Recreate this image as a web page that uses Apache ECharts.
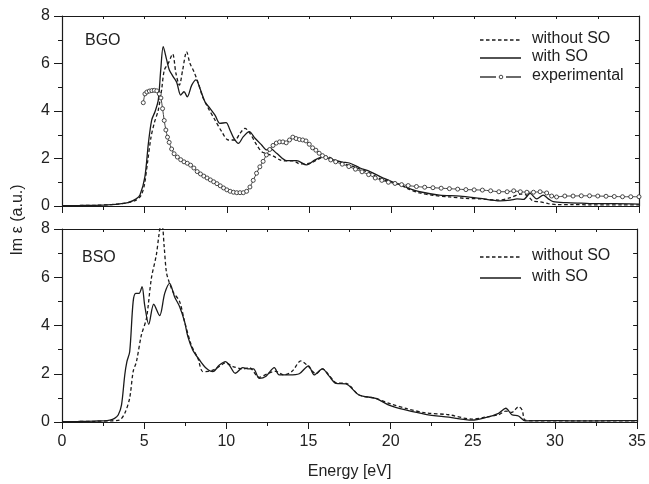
<!DOCTYPE html>
<html>
<head>
<meta charset="utf-8">
<script src="https://cdn.jsdelivr.net/npm/echarts@6/dist/echarts.min.js"></script>
<style>html,body{margin:0;padding:0;background:#fff}#c{width:649px;height:484px}</style>
</head>
<body>
<div id="c"></div>
<script>
// ---------- DATA ----------
var xTicks = [0, 5, 10, 15, 20, 25, 30, 35];
var yTicks = [0, 2, 4, 6, 8];
var panelLabels = ['BGO', 'BSO'];
var seriesNames = ['without SO', 'with SO', 'experimental'];

// BGO (top) without SO
var bgoNoSoX = [0,1,2,3,3.5,4,4.5,4.8,5.0,5.2,5.4,5.6,5.84,6.04,6.21,6.45,6.71,6.91,7.12,7.32,7.56,7.76,8.0,8.27,8.53,8.88,9.28,9.69,10.09,10.49,10.8,11.1,11.4,11.81,12.11,12.42,12.82,13.22,13.6,14.03,14.44,15.04,15.5,16.0,16.5,17.0,17.5,18.08,18.7,19.3,20.0,20.5,21.0,21.7,22.5,23.5,24.5,25.4,26.5,27.2,27.8,28.2,28.6,29.0,29.5,30.0,31,32,33,34,35];
var bgoNoSoY = [0.01,0.02,0.03,0.06,0.09,0.14,0.25,0.45,0.9,1.9,2.9,3.5,4.04,4.88,5.73,6.01,6.4,5.59,5.09,5.73,6.5,6.01,5.66,5.17,4.6,4.11,3.62,3.13,2.78,2.78,3.06,3.27,3.06,2.57,2.29,2.2,2.1,1.94,1.9,1.9,1.77,1.8,1.95,2.1,1.95,1.8,1.7,1.55,1.38,1.15,1.0,0.9,0.72,0.55,0.45,0.38,0.32,0.3,0.25,0.35,0.5,0.45,0.2,0.18,0.1,0.06,0.06,0.05,0.05,0.05,0.05];

// BGO (top) with SO
var bgoSoX = [0,1,2,3,3.5,4,4.5,4.73,5.03,5.24,5.44,5.64,5.84,5.99,6.14,6.35,6.51,6.75,6.96,7.2,7.4,7.6,7.87,8.13,8.37,8.67,8.98,9.28,9.58,9.95,10.19,10.43,10.7,11.0,11.36,11.71,12.11,12.42,12.62,13.02,13.63,14.23,14.84,15.35,15.85,16.46,17.0,17.47,18.08,18.68,19.49,20.3,21.0,21.7,22.9,24.14,25.36,26.57,27.2,27.6,28.0,28.39,28.8,29.19,29.5,29.8,30.61,31.5,32.5,33.5,35];
var bgoSoY = [0.01,0.02,0.03,0.06,0.09,0.14,0.3,0.46,1.24,2.64,3.62,3.97,4.46,5.73,6.71,6.15,5.73,5.44,5.2,4.67,4.81,4.6,5.09,5.31,4.95,4.39,4.11,3.83,3.48,3.51,3.2,2.85,2.64,2.92,3.13,2.85,2.57,2.36,2.43,2.22,1.91,1.91,1.73,1.94,2.08,1.94,1.85,1.8,1.6,1.45,1.17,0.95,0.75,0.6,0.46,0.42,0.32,0.22,0.25,0.3,0.28,0.53,0.3,0.46,0.3,0.18,0.14,0.12,0.1,0.1,0.08];

// BGO experimental
var bgoExpX = [4.93,5.03,5.15,5.3,5.45,5.6,5.75,5.9,6.0,6.1,6.2,6.3,6.4,6.5,6.65,6.8,7.0,7.2,7.4,7.6,7.8,8.0,8.2,8.4,8.6,8.8,9.0,9.2,9.4,9.6,9.8,10.0,10.2,10.4,10.6,10.8,11.0,11.2,11.4,11.6,11.8,12.0,12.2,12.4,12.6,12.8,13.0,13.2,13.4,13.6,13.8,14.0,14.2,14.4,14.6,14.8,15.0,15.2,15.4,15.6,15.8,16.0,16.3,16.6,17.0,17.4,17.8,18.2,18.6,19.0,19.4,19.8,20.2,20.6,21.0,21.5,22.0,22.5,23.0,23.5,24.0,24.5,25.0,25.5,26.0,26.5,27.0,27.4,27.8,28.2,28.6,29.0,29.4,29.7,30.0,30.5,31.0,31.5,32.0,32.5,33.0,33.5,34.0,34.5,35.0];
var bgoExpY = [4.35,4.72,4.80,4.84,4.86,4.87,4.85,4.72,4.55,4.1,3.6,3.2,2.9,2.68,2.4,2.2,2.06,1.95,1.86,1.8,1.72,1.6,1.45,1.35,1.26,1.18,1.1,1.02,0.94,0.85,0.76,0.68,0.62,0.58,0.56,0.56,0.56,0.62,0.8,1.08,1.38,1.65,1.88,2.15,2.38,2.55,2.65,2.7,2.7,2.66,2.78,2.9,2.84,2.8,2.78,2.74,2.6,2.45,2.35,2.22,2.12,2.04,1.94,1.86,1.76,1.66,1.55,1.44,1.32,1.18,1.08,1.0,0.95,0.9,0.86,0.82,0.79,0.77,0.75,0.73,0.71,0.69,0.68,0.67,0.64,0.6,0.6,0.64,0.6,0.58,0.58,0.6,0.55,0.42,0.38,0.42,0.42,0.43,0.43,0.42,0.41,0.40,0.39,0.39,0.39];

// BSO (bottom) without SO
var bsoNoSoX = [0,1,2,3,3.5,3.82,4.12,4.33,4.53,4.83,5.14,5.44,5.74,5.9,6.0,6.1,6.21,6.35,6.51,6.75,7.16,7.46,7.87,8.27,8.57,8.9,9.18,9.58,9.95,10.4,11.0,11.4,12.0,12.5,13.0,13.5,14.0,14.54,15.0,15.45,15.85,16.3,16.7,17.3,18.08,19.09,20.0,21.0,22.12,23.54,24.95,25.76,26.57,27.01,27.38,27.78,28.0,28.19,29,30,32,35];
var bsoNoSoY = [0.01,0.02,0.03,0.05,0.08,0.36,1.0,2.09,2.5,3.6,4.3,5.96,6.92,7.75,8.1,8.1,7.34,6.23,5.82,5.4,4.99,4.16,3.19,2.64,2.09,2.1,2.15,2.3,2.45,2.3,2.2,2.25,1.85,2.0,2.1,1.95,2.1,2.53,2.3,2.0,2.2,1.9,1.62,1.6,1.12,0.98,0.75,0.55,0.38,0.3,0.12,0.2,0.3,0.45,0.4,0.63,0.5,0.08,0.05,0.05,0.05,0.05];

// BSO (bottom) with SO
var bsoSoX = [0,1,2,2.5,2.91,3.2,3.42,3.62,3.82,3.95,4.12,4.33,4.49,4.69,4.87,5.03,5.28,5.58,5.94,6.25,6.55,6.85,7.16,7.46,7.66,7.96,8.37,8.78,9.18,9.58,9.95,10.19,10.55,11.0,11.4,11.65,12.01,12.42,12.92,13.22,13.83,14.44,15.0,15.35,15.85,16.26,16.68,17.27,18.08,19.09,19.9,20.91,22.12,23.54,24.95,25.76,26.57,27.01,27.38,27.78,28.19,29.8,31,32.5,35];
var bsoSoY = [0.01,0.02,0.04,0.05,0.08,0.15,0.29,0.7,1.95,2.5,2.91,4.99,5.33,5.33,5.61,4.85,4.05,4.88,4.41,5.33,5.75,5.19,4.78,4.16,3.54,2.98,2.57,2.23,2.09,2.36,2.5,2.35,2.02,2.25,2.2,2.2,1.81,1.9,2.25,1.95,1.95,2.0,2.33,1.95,2.2,1.9,1.6,1.58,1.12,0.98,0.7,0.5,0.32,0.2,0.08,0.18,0.36,0.57,0.3,0.25,0.05,0.06,0.05,0.05,0.06];

// ---------- CHART ----------
function pairs(xs, ys) { return xs.map(function (x, i) { return [x, ys[i]]; }); }
var FONT = 'Liberation Sans, Arial, sans-serif';
var INK = '#1a1a1a';
var TXT = '#222';
var DASH = [3.5, 2.5];
var G = [{ left: 62, top: 16, width: 577, height: 190 }, { left: 62, top: 229, width: 577, height: 193 }];

function bottomX(gi, labels) {
  return {
    type: 'value', gridIndex: gi, position: 'bottom', min: xTicks[0], max: xTicks[xTicks.length - 1], interval: 5,
    axisLine: { show: true, onZero: false, lineStyle: { color: INK, width: 1.2 } },
    axisTick: { show: true, inside: false, length: 7, lineStyle: { color: INK, width: 1 } },
    minorTick: { show: true, splitNumber: 2, length: 4, lineStyle: { color: INK, width: 1 } },
    axisLabel: { show: labels, color: TXT, fontSize: 16, fontFamily: FONT, margin: 12 },
    splitLine: { show: false }, minorSplitLine: { show: false },
    name: labels ? 'Energy [eV]' : '', nameLocation: 'middle', nameGap: 42,
    nameTextStyle: { color: TXT, fontSize: 16, fontFamily: FONT }
  };
}
function topX(gi) {
  return {
    type: 'value', gridIndex: gi, position: 'top', min: 0, max: 35, interval: 2.5,
    axisLine: { show: true, onZero: false, lineStyle: { color: INK, width: 1.2 } },
    axisTick: { show: true, inside: true, length: 3, lineStyle: { color: INK } },
    axisLabel: { show: false }, splitLine: { show: false }
  };
}
function leftY(gi) {
  return {
    type: 'value', gridIndex: gi, position: 'left', min: yTicks[0], max: yTicks[yTicks.length - 1], interval: 2,
    axisLine: { show: true, onZero: false, lineStyle: { color: INK, width: 1.2 } },
    axisTick: { show: true, inside: false, length: 8, lineStyle: { color: INK, width: 1 } },
    minorTick: { show: true, splitNumber: 2, length: 4, lineStyle: { color: INK, width: 1 } },
    axisLabel: { show: true, color: TXT, fontSize: 16, fontFamily: FONT, margin: 12 },
    splitLine: { show: false }, minorSplitLine: { show: false }
  };
}
function rightY(gi) {
  return {
    type: 'value', gridIndex: gi, position: 'right', min: 0, max: 8, interval: 1,
    axisLine: { show: true, onZero: false, lineStyle: { color: INK, width: 1.2 } },
    axisTick: { show: true, inside: true, length: 4, lineStyle: { color: INK } },
    axisLabel: { show: false }, splitLine: { show: false }
  };
}

function lineSeries(name, gi, data, dashed) {
  return {
    name: name, type: 'line', xAxisIndex: gi * 2, yAxisIndex: gi * 2, data: data,
    symbol: 'none', smooth: 0.3, clip: true,
    lineStyle: { color: INK, width: 1.3, type: dashed ? DASH : 'solid' },
    itemStyle: { color: INK }, z: 3
  };
}

// legend drawn as graphics (sample line + text)
function legendRow(y, kind, label) {
  var els = [];
  if (kind === 'exp') {
    els.push({ type: 'line', shape: { x1: 480, y1: y, x2: 496, y2: y }, style: { stroke: INK, lineWidth: 1.3 } });
    els.push({ type: 'circle', shape: { cx: 501, cy: y, r: 1.8 }, style: { fill: '#fff', stroke: '#333', lineWidth: 0.9 } });
    els.push({ type: 'line', shape: { x1: 506, y1: y, x2: 521, y2: y }, style: { stroke: INK, lineWidth: 1.3 } });
  } else {
    els.push({ type: 'line', shape: { x1: 480, y1: y, x2: 521, y2: y },
      style: { stroke: INK, lineWidth: 1.3, lineDash: kind === 'dash' ? DASH : null } });
  }
  els.push({ type: 'text', x: 532, y: y - 1, style: { text: label, fill: TXT, font: '16px ' + FONT, verticalAlign: 'middle' } });
  return els;
}

var graphics = [
  { type: 'text', left: 85, top: 33, style: { text: panelLabels[0], fill: TXT, font: '16px ' + FONT } },
  { type: 'text', left: 82, top: 250, style: { text: panelLabels[1], fill: TXT, font: '16px ' + FONT } },
  { type: 'text', x: 18, y: 220, rotation: Math.PI / 2, style: { text: 'Im \u03b5 (a.u.)', fill: TXT, font: '16px ' + FONT, align: 'center', verticalAlign: 'middle' } }
].concat(legendRow(40, 'dash', seriesNames[0]))
 .concat(legendRow(58, 'solid', seriesNames[1]))
 .concat(legendRow(77, 'exp', seriesNames[2]))
 .concat(legendRow(257, 'dash', seriesNames[0]))
 .concat(legendRow(278, 'solid', seriesNames[1]));

var option = {
  animation: false,
  backgroundColor: '#fff',
  grid: G,
  xAxis: [bottomX(0, false), topX(0), bottomX(1, true), topX(1)],
  yAxis: [leftY(0), rightY(0), leftY(1), rightY(1)],
  graphic: graphics,
  series: [
    lineSeries(seriesNames[0], 0, pairs(bgoNoSoX, bgoNoSoY), true),
    lineSeries(seriesNames[1], 0, pairs(bgoSoX, bgoSoY), false),
    {
      name: seriesNames[2], type: 'line', xAxisIndex: 0, yAxisIndex: 0, data: pairs(bgoExpX, bgoExpY),
      symbol: 'circle', symbolSize: 4, showSymbol: true, smooth: 0.2,
      lineStyle: { color: '#444', width: 1 },
      itemStyle: { color: '#fff', borderColor: '#333', borderWidth: 0.9 }, z: 4
    },
    lineSeries(seriesNames[0], 1, pairs(bsoNoSoX, bsoNoSoY), true),
    lineSeries(seriesNames[1], 1, pairs(bsoSoX, bsoSoY), false)
  ]
};
var chart = echarts.init(document.getElementById('c'), null, { renderer: 'canvas' });
chart.setOption(option);
</script>
</body>
</html>
